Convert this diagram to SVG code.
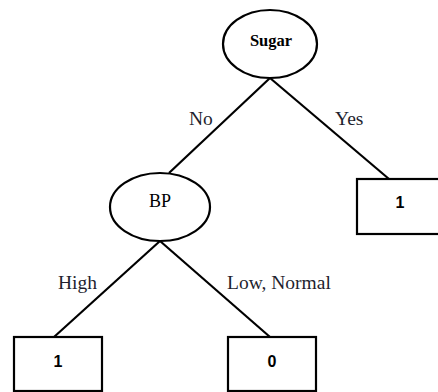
<svg xmlns="http://www.w3.org/2000/svg" width="438" height="392" viewBox="0 0 438 392">
<style>
.node{fill:#fff;stroke:#000;stroke-width:2.2}
.edge{stroke:#000;stroke-width:2.2;fill:none}
.lbl{font-family:"Liberation Serif","Times New Roman",serif;font-size:19.5px;fill:#1f1f2f}
.name{font-family:"Liberation Serif","Times New Roman",serif;text-anchor:middle;fill:#000}
.num{font-family:"Liberation Sans",Arial,sans-serif;font-size:16px;font-weight:bold;text-anchor:middle;fill:#000}
</style>
<rect width="438" height="392" fill="#fff"/>
<g id="connectors">
<line class="edge" x1="270" y1="78" x2="169" y2="173"/>
<line class="edge" x1="270" y1="78" x2="389" y2="179"/>
<line class="edge" x1="160" y1="241" x2="54" y2="337"/>
<line class="edge" x1="160" y1="241" x2="270" y2="337"/>
<text class="lbl" x="189" y="125">No</text>
<text class="lbl" x="335" y="125">Yes</text>
<text class="lbl" x="58" y="289">High</text>
<text class="lbl" x="227" y="289">Low, Normal</text>
</g>
<g id="sugar">
<ellipse class="node" cx="270" cy="44" rx="47" ry="34"/>
<text class="name" x="271" y="46" font-size="16.5" font-weight="bold">Sugar</text>
</g>
<g id="bp">
<ellipse class="node" cx="160" cy="207" rx="50" ry="34"/>
<text class="name" x="160" y="207" font-size="18">BP</text>
</g>
<g id="leaf-yes">
<rect class="node" x="357" y="179" width="90" height="55"/>
<text class="num" x="400" y="208">1</text>
</g>
<g id="leaf-high">
<rect class="node" x="14" y="337" width="88" height="54"/>
<text class="num" x="58" y="367">1</text>
</g>
<g id="leaf-low">
<rect class="node" x="228" y="337" width="88" height="54"/>
<text class="num" x="272" y="367">0</text>
</g>
</svg>
